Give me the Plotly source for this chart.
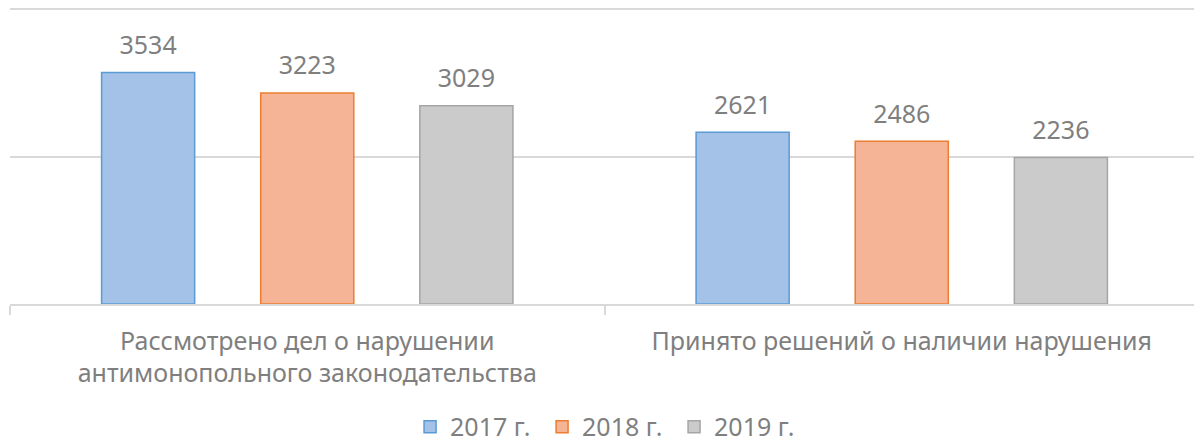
import plotly.graph_objects as go

categories = ["Рассмотрено дел о нарушении<br>антимонопольного законодательства",
              "Принято решений о наличии нарушения"]
series_names = ["2017 г.", "2018 г.", "2019 г."]
values_2017 = [3534, 2621]
values_2018 = [3223, 2486]
values_2019 = [3029, 2236]
series_values = [values_2017, values_2018, values_2019]

fills = ["#a4c1e7", "#f6b496", "#cbcbcb"]
borders = ["#5b9bd5", "#ed7d31", "#a5a5a5"]
FONT = "Noto Sans"
TXT = "#7f7f7f"

fig = go.Figure()
for name, vals, fc, bc in zip(series_names, series_values, fills, borders):
    fig.add_trace(go.Bar(
        x=categories, y=vals, name=name, offsetgroup=name,
        marker=dict(color=fc, line=dict(color=bc, width=1.5)),
    ))
for name, vals in zip(series_names, series_values):
    fig.add_trace(go.Scatter(
        x=categories, y=vals, mode="markers+text", offsetgroup=name,
        text=[str(v) for v in vals], textposition="top center",
        textfont=dict(family=FONT, size=25, color=TXT),
        marker=dict(size=18, opacity=0), showlegend=False, hoverinfo="skip",
        cliponaxis=False,
    ))

# page body has an 8px margin, so the figure is sized/offset to compensate
fig.update_layout(
    width=1194, height=435,
    margin=dict(l=2, r=3, t=0, b=139, autoexpand=False),
    paper_bgcolor="white", plot_bgcolor="white",
    barmode="group", scattermode="group",
    bargap=0.197, bargroupgap=0.415, scattergap=0.197,
    font=dict(family=FONT, size=25, color=TXT),
    legend=dict(orientation="h", x=0.503, xanchor="center", yref="container",
                y=0.037, yanchor="middle", font=dict(size=25, color=TXT),
                tracegroupgap=0, entrywidth=87),
    showlegend=True,
)
fig.update_xaxes(
    showline=True, linecolor="#d9d9d9", linewidth=1.5, automargin=False,
    ticks="outside", tickson="boundaries", ticklen=9, tickcolor="#d9d9d9",
    tickwidth=1.5, tickfont=dict(family=FONT, size=25, color=TXT),
    ticklabelstandoff=14,
)
fig.update_yaxes(
    range=[0, 4520], tick0=0, dtick=2250, showticklabels=False, automargin=False,
    showgrid=True, gridcolor="#d9d9d9", gridwidth=1.5, zeroline=False,
)
fig.write_html("out.html")
